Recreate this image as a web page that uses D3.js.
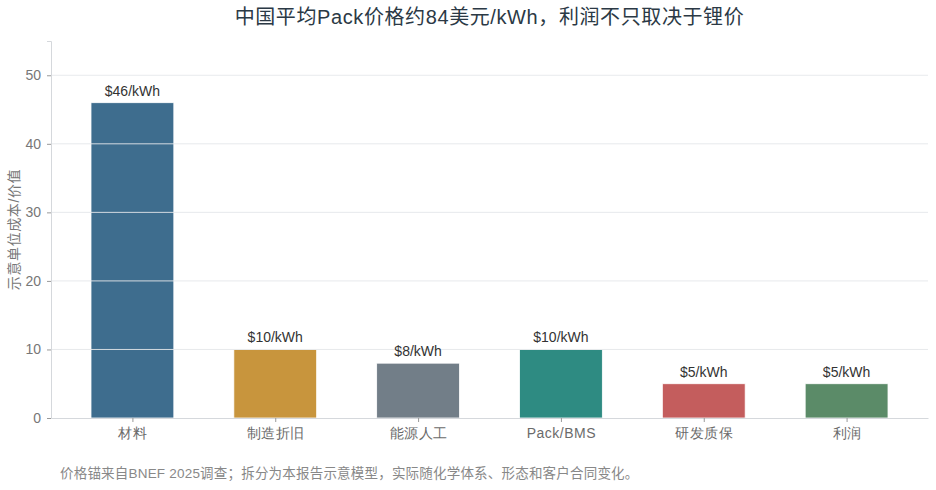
<!DOCTYPE html>
<html>
<head>
<meta charset="utf-8">
<script src="https://cdn.jsdelivr.net/npm/d3@7"></script>
<style>
  body { margin: 0; background: #fff; }
  svg { display: block; font-family: "Liberation Sans", Arial, "Noto Sans CJK SC", sans-serif; }
</style>
</head>
<body>
<div id="chart"></div>
<script>
const categories = ["材料", "制造折旧", "能源人工", "Pack/BMS", "研发质保", "利润"];
const values = [46, 10, 8, 10, 5, 5];
const barLabels = ["$46/kWh", "$10/kWh", "$8/kWh", "$10/kWh", "$5/kWh", "$5/kWh"];
const barColors = ["#3e6d8e", "#c8953d", "#727e88", "#2e8b82", "#c45d5d", "#5b8b68"];
const yTicks = [0, 10, 20, 30, 40, 50];

const title = "中国平均Pack价格约84美元/kWh，利润不只取决于锂价";
const yLabel = "示意单位成本/价值";
const note = "价格锚来自BNEF 2025调查；拆分为本报告示意模型，实际随化学体系、形态和客户合同变化。";

(() => {
  const width = 936, height = 490;
  const margin = { top: 41, right: 8, bottom: 72, left: 51 };
  const innerWidth = width - margin.left - margin.right;
  const innerHeight = height - margin.top - margin.bottom;

  const svg = d3.select("#chart").append("svg")
    .attr("width", width).attr("height", height);

  svg.append("text")
    .attr("x", margin.left + innerWidth / 2).attr("y", 24)
    .attr("text-anchor", "middle")
    .attr("font-size", 20).attr("letter-spacing", 0.6).attr("fill", "#2b3945")
    .text(title);

  const g = svg.append("g").attr("transform", `translate(${margin.left},${margin.top})`);

  // linear x so the bars sit the same way as a -0.57..5.57 axis
  const x = d3.scaleLinear().domain([-0.57, categories.length - 1 + 0.57]).range([0, innerWidth]);
  const barWidth = x(0.58) - x(0);
  const y = d3.scaleLinear().domain([0, 55]).range([innerHeight, 0]);

  g.selectAll(".bar").data(values).join("rect")
    .attr("class", "bar")
    .attr("x", (d, i) => x(i) - barWidth / 2)
    .attr("y", (d) => y(d))
    .attr("width", barWidth)
    .attr("height", (d) => y(0) - y(d))
    .attr("fill", (d, i) => barColors[i])
    .attr("stroke", "#fff").attr("stroke-width", 0.8);

  // grid drawn over the bars, semi transparent
  g.selectAll(".grid").data(yTicks.filter((t) => t > 0)).join("line")
    .attr("class", "grid")
    .attr("x1", 0).attr("x2", innerWidth)
    .attr("y1", (d) => y(d)).attr("y2", (d) => y(d))
    .attr("stroke", "#e4e7ea").attr("stroke-opacity", 0.9).attr("stroke-width", 1);

  g.selectAll(".val").data(values).join("text")
    .attr("class", "val")
    .attr("x", (d, i) => x(i))
    .attr("y", (d) => y(d) - 7)
    .attr("text-anchor", "middle")
    .attr("font-size", 14).attr("fill", "#333")
    .text((d, i) => barLabels[i]);

  const yAxis = g.append("g")
    .call(d3.axisLeft(y).tickValues(yTicks).tickSize(4).tickPadding(6));
  yAxis.select(".domain").attr("stroke", "#d5d8dc");
  yAxis.selectAll(".tick line").attr("stroke", "#999");
  yAxis.selectAll(".tick text").attr("font-size", 14).attr("fill", "#777");

  const xAxis = g.append("g").attr("transform", `translate(0,${innerHeight})`)
    .call(d3.axisBottom(x).tickValues(d3.range(categories.length))
      .tickFormat((i) => categories[i]).tickSize(4).tickPadding(6).tickSizeOuter(0));
  xAxis.select(".domain").attr("stroke", "#d5d8dc");
  xAxis.selectAll(".tick line").attr("stroke", "#999");
  xAxis.selectAll(".tick text").attr("font-size", 14).attr("fill", "#6b6b6b").attr("letter-spacing", 0.5);

  svg.append("text")
    .attr("transform", `translate(19,${margin.top + innerHeight / 2}) rotate(-90)`)
    .attr("text-anchor", "middle")
    .attr("font-size", 14).attr("letter-spacing", 0.6).attr("fill", "#777")
    .text(yLabel);

  svg.append("text")
    .attr("x", 60).attr("y", 478)
    .attr("font-size", 13.5).attr("letter-spacing", 0.2).attr("fill", "#888")
    .text(note);
})();
</script>
</body>
</html>
